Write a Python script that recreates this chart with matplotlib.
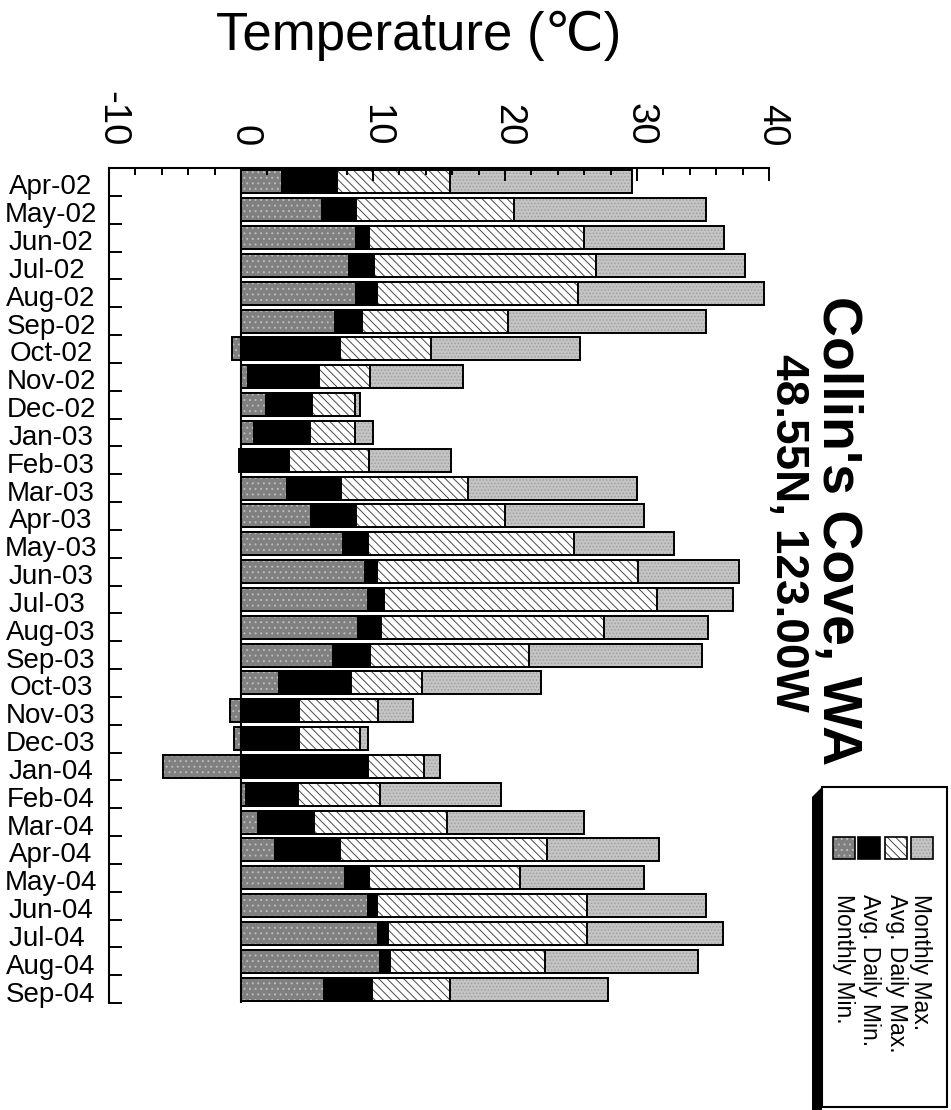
import numpy as np
import matplotlib
matplotlib.use('Agg')
import matplotlib.pyplot as plt
import matplotlib.transforms as mtransforms
from matplotlib.patches import Rectangle, Polygon
from matplotlib.ticker import MultipleLocator

plt.rcParams['font.family'] = ['Liberation Sans', 'DejaVu Sans']
plt.rcParams['hatch.linewidth'] = 0.7

months = ['Apr-02', 'May-02', 'Jun-02', 'Jul-02 ', 'Aug-02', 'Sep-02', 'Oct-02', 'Nov-02',
          'Dec-02', 'Jan-03', 'Feb-03', 'Mar-03', 'Apr-03', 'May-03', 'Jun-03', 'Jul-03 ',
          'Aug-03', 'Sep-03', 'Oct-03', 'Nov-03', 'Dec-03', 'Jan-04', 'Feb-04', 'Mar-04',
          'Apr-04', 'May-04', 'Jun-04', 'Jul-04 ', 'Aug-04', 'Sep-04']

monthly_max = [29.6, 35.2, 36.6, 38.2, 39.6, 35.2, 25.7, 16.8, 9.0, 10.0, 15.9, 30.0, 30.5, 32.8, 37.7,
               37.3, 35.4, 34.9, 22.7, 13.0, 9.6, 15.1, 19.7, 26.0, 31.7, 30.5, 35.2, 36.5, 34.6, 27.8]
avg_daily_max = [15.8, 20.7, 26.0, 26.9, 25.5, 20.2, 14.4, 9.8, 8.6, 8.6, 9.7, 17.2, 20.0, 25.2, 30.1,
                 31.5, 27.5, 21.8, 13.7, 10.4, 9.0, 13.9, 10.5, 15.6, 23.2, 21.1, 26.2, 26.2, 23.0, 15.8]
avg_daily_min = [7.3, 8.7, 9.7, 10.1, 10.3, 9.2, 7.5, 5.9, 5.4, 5.2, 3.6, 7.6, 8.7, 9.6, 10.3,
                 10.8, 10.6, 9.8, 8.3, 4.4, 4.4, 9.6, 4.3, 5.5, 7.5, 9.7, 10.3, 11.1, 11.3, 9.9]
monthly_min = [3.1, 6.1, 8.7, 8.2, 8.7, 7.1, -0.7, 0.5, 1.9, 1.0, -0.15, 3.5, 5.3, 7.7, 9.4,
               9.6, 8.9, 7.0, 2.9, -0.8, -0.5, -5.9, 0.4, 1.3, 2.6, 7.9, 9.6, 10.4, 10.5, 6.3]

x_ticks = [-10, 0, 10, 20, 30, 40]
series_labels = ['Monthly Max.', 'Avg. Daily Max.', 'Avg. Daily Min.', 'Monthly Min.']

W, H = 951, 1110
fig = plt.figure(figsize=(W / 100, H / 100), dpi=100)
ax = fig.add_axes([109 / W, 1 - 1003 / H, 660 / W, 835 / H])

styles = [
    dict(fc='#c4c4c4', hatch='.....', hc='#a0a0a0'),   # monthly max
    dict(fc='white', hatch='\\\\\\\\', hc='#4a4a4a'),   # avg daily max
    dict(fc='black', hatch=None, hc='black'),         # avg daily min
    dict(fc='#808080', hatch='...', hc='#bcbcbc'),     # monthly min
]
series = [monthly_max, avg_daily_max, avg_daily_min, monthly_min]

y = np.arange(len(months))
bh = 0.83
for vals, st in zip(series, styles):
    ax.barh(y, vals, height=bh, color=st['fc'], hatch=st['hatch'], edgecolor=st['hc'],
            linewidth=0, zorder=1)
    ax.barh(y, vals, height=bh, fill=False, edgecolor='black', linewidth=1.4, zorder=1)

ax.axvline(0, color='black', linewidth=1.5, zorder=1.5)

ax.set_xlim(-10, 40)
ax.set_ylim(len(months) - 0.5, -0.5)
ax.xaxis.set_ticks_position('top')
ax.set_xticks(x_ticks)
ax.xaxis.set_minor_locator(MultipleLocator(2))
ax.tick_params(axis='x', which='major', direction='in', length=9.5, width=1.4,
               labeltop=False, labelbottom=False)
ax.tick_params(axis='x', which='minor', direction='in', length=5, width=1.4)
ax.set_yticks(y + 0.5)
ax.tick_params(axis='y', which='major', direction='in', length=9.5, width=1.4,
               labelleft=False)
for s in ['right', 'bottom']:
    ax.spines[s].set_visible(False)
for s in ['top', 'left']:
    ax.spines[s].set_linewidth(1.5)

# x tick labels (rotated)
off = mtransforms.ScaledTranslation(3.2 / 100, 22 / 100, fig.dpi_scale_trans)
for v in x_ticks:
    ax.text(v, 1.0, str(v), transform=ax.get_xaxis_transform() + off, rotation=-90,
            ha='center', va='bottom', fontsize=27.5)

# month labels
off2 = mtransforms.ScaledTranslation(0, -12.5 / 100, fig.dpi_scale_trans)
for i, m in enumerate(months):
    ax.text(-58 / 660, i, m, transform=ax.get_yaxis_transform() + off2,
            ha='center', va='baseline', fontsize=20)

# overlay in pixel coordinates
lax = fig.add_axes([0, 0, 1, 1], zorder=5)
lax.set_xlim(0, W)
lax.set_ylim(H, 0)
lax.axis('off')

lax.text(419, 50, 'Temperature (\u2103)', ha='center', va='baseline', fontsize=38)
lax.text(837.5, 531, "Collin's Cove, WA", rotation=-90, ha='center', va='center',
         fontsize=40, fontweight='bold')
lax.text(788, 533, '48.55N, 123.00W', rotation=-90, ha='center', va='center',
         fontsize=33, fontweight='bold')

# legend
lax.add_patch(Polygon([(822, 787), (812, 797), (812, 1110), (822, 1110)], closed=True,
                      facecolor='black', edgecolor='black', linewidth=0))
lax.add_patch(Rectangle((822, 787), 125, 320, facecolor='white', edgecolor='black', linewidth=1.5))
sw_x = [833, 858, 885, 911]
for sx, st in zip(sw_x, styles[::-1]):
    lax.add_patch(Rectangle((sx, 837), 22, 22, facecolor=st['fc'], hatch=st['hatch'],
                            edgecolor=st['hc'], linewidth=0))
    lax.add_patch(Rectangle((sx, 837), 22, 22, fill=False, edgecolor='black', linewidth=1.2))
lab_x = [920.5, 896.5, 869.5, 843.5]
for lx, lab in zip(lab_x, series_labels):
    lax.text(lx, 894, lab, rotation=-90, ha='center', va='top', fontsize=16.5)

fig.savefig('out.png', dpi=100)
